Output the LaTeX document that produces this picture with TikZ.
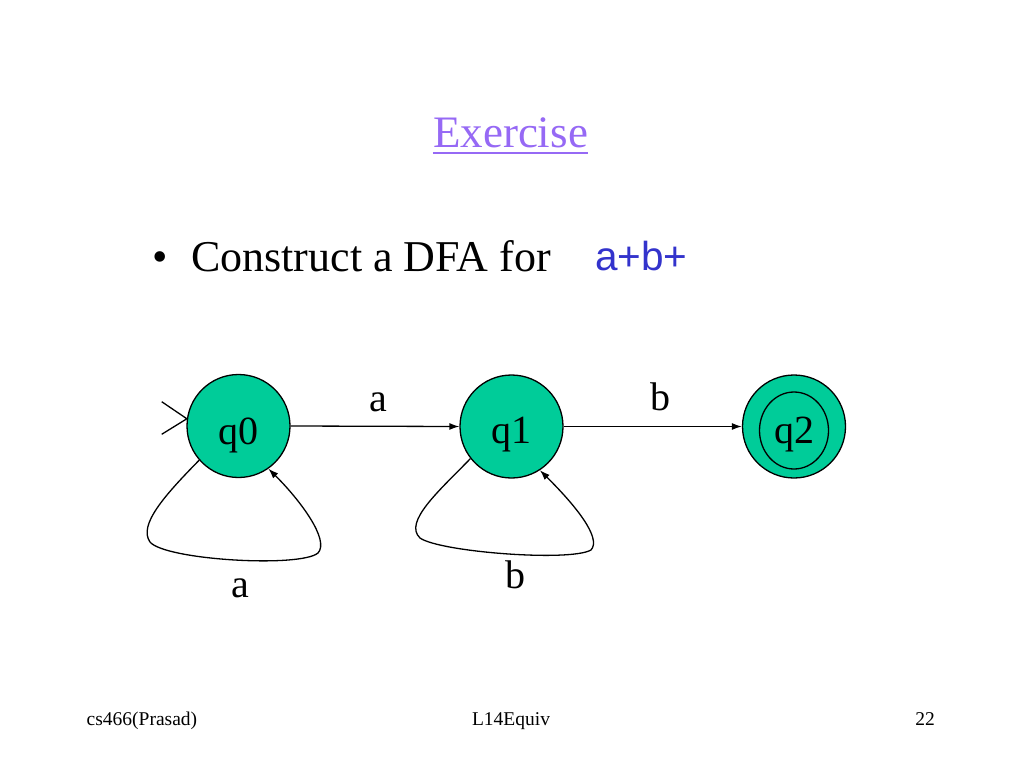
\documentclass[tikz,border=0pt]{standalone}
\usepackage{fontspec}
\setmainfont{Liberation Serif}
\setsansfont{Liberation Sans}
\usetikzlibrary{arrows.meta}
\definecolor{stategreen}{RGB}{0,204,153}
\definecolor{titlepurple}{RGB}{150,105,245}
\definecolor{exprblue}{RGB}{51,51,204}
\begin{document}
\begin{tikzpicture}[x=1pt,y=-1pt,
  state/.style={circle,draw=black,line width=1.3pt,fill=stategreen,minimum size=103pt,inner sep=0pt},
  statelabel/.style={anchor=base,inner sep=0pt,font=\fontsize{40}{48}\selectfont},
  edgelabel/.style={anchor=base,inner sep=0pt,font=\fontsize{40}{48}\selectfont},
  footer/.style={inner sep=0pt,font=\fontsize{19.5}{23}\selectfont},
  trans/.style={line width=1.3pt,-{Latex[length=10pt,width=7pt]}},
  loopline/.style={line width=1.3pt,-{Latex[length=10pt,width=7pt]}},
]
\useasboundingbox (0,0) rectangle (1024,768);
\fill[white] (0,0) rectangle (1024,768);

% title
\node[anchor=base,inner sep=0pt,text=titlepurple,font=\fontsize{45}{54}\selectfont] (title) at (510.5,147) {Exercise};
\draw[titlepurple,line width=2.5pt] ([yshift=-6pt]title.base west) -- ([yshift=-6pt]title.base east);

% bullet line
\node[anchor=base,inner sep=0pt,font=\fontsize{44}{52}\selectfont] (bullet) at (160,271) {•};
\node[anchor=base west,inner sep=0pt,font=\fontsize{44}{52}\selectfont] (task) at (191,271) {Construct a DFA for};
\node[anchor=base west,inner sep=0pt,text=exprblue,font=\sffamily\fontsize{40.5}{48}\selectfont] (expr) at (595,270) {a+b+};

% states
\node[state] (q0) at (238.5,426) {};
\node[state] (q1) at (511.5,426.5) {};
\node[state] (q2) at (794,426.5) {};
\draw[line width=1.3pt] ([yshift=-4pt]q2.center) ellipse [x radius=34.5pt, y radius=38.5pt];

\node[statelabel] (q0l) at ([yshift=-18pt]q0.center) {q0};
\node[statelabel] (q1l) at ([yshift=-17pt]q1.center) {q1};
\node[statelabel] (q2l) at ([yshift=-17pt]q2.center) {q2};

% start marker
\coordinate (s1) at (161.7,401.7);
\coordinate (s2) at (161.7,434.3);
\draw[line width=1.3pt] (s1) -- (q0.172) -- (s2);

% transitions
\draw[trans] (q0.east) -- (q1.west);
\draw[trans] (q1.east) -- (q2.west);
\node[edgelabel] (la) at (378,411) {a};
\node[edgelabel] (lb) at (660,410) {b};

% self loops
\draw[loopline] (q0.221) .. controls (165,495) and (138,525) .. (150,542)
  .. controls (165,560) and (300,568) .. (318,553)
  .. controls (330,540) and (300,500) .. (q0.305);
\node[edgelabel] (la2) at (240,597) {a};

\draw[loopline] (q1.218) .. controls (440,490) and (403,522) .. (420,538)
  .. controls (440,552) and (570,562) .. (591,550)
  .. controls (602,538) and (575,505) .. (q1.303);
\node[edgelabel] (lb2) at (515,588) {b};

% footer
\node[footer,anchor=base west] (fl) at (86.5,725) {cs466(Prasad)};
\node[footer,anchor=base] (fc) at (511,725) {L14Equiv};
\node[footer,anchor=base east] (fr) at (935,725) {22};
\end{tikzpicture}
\end{document}
